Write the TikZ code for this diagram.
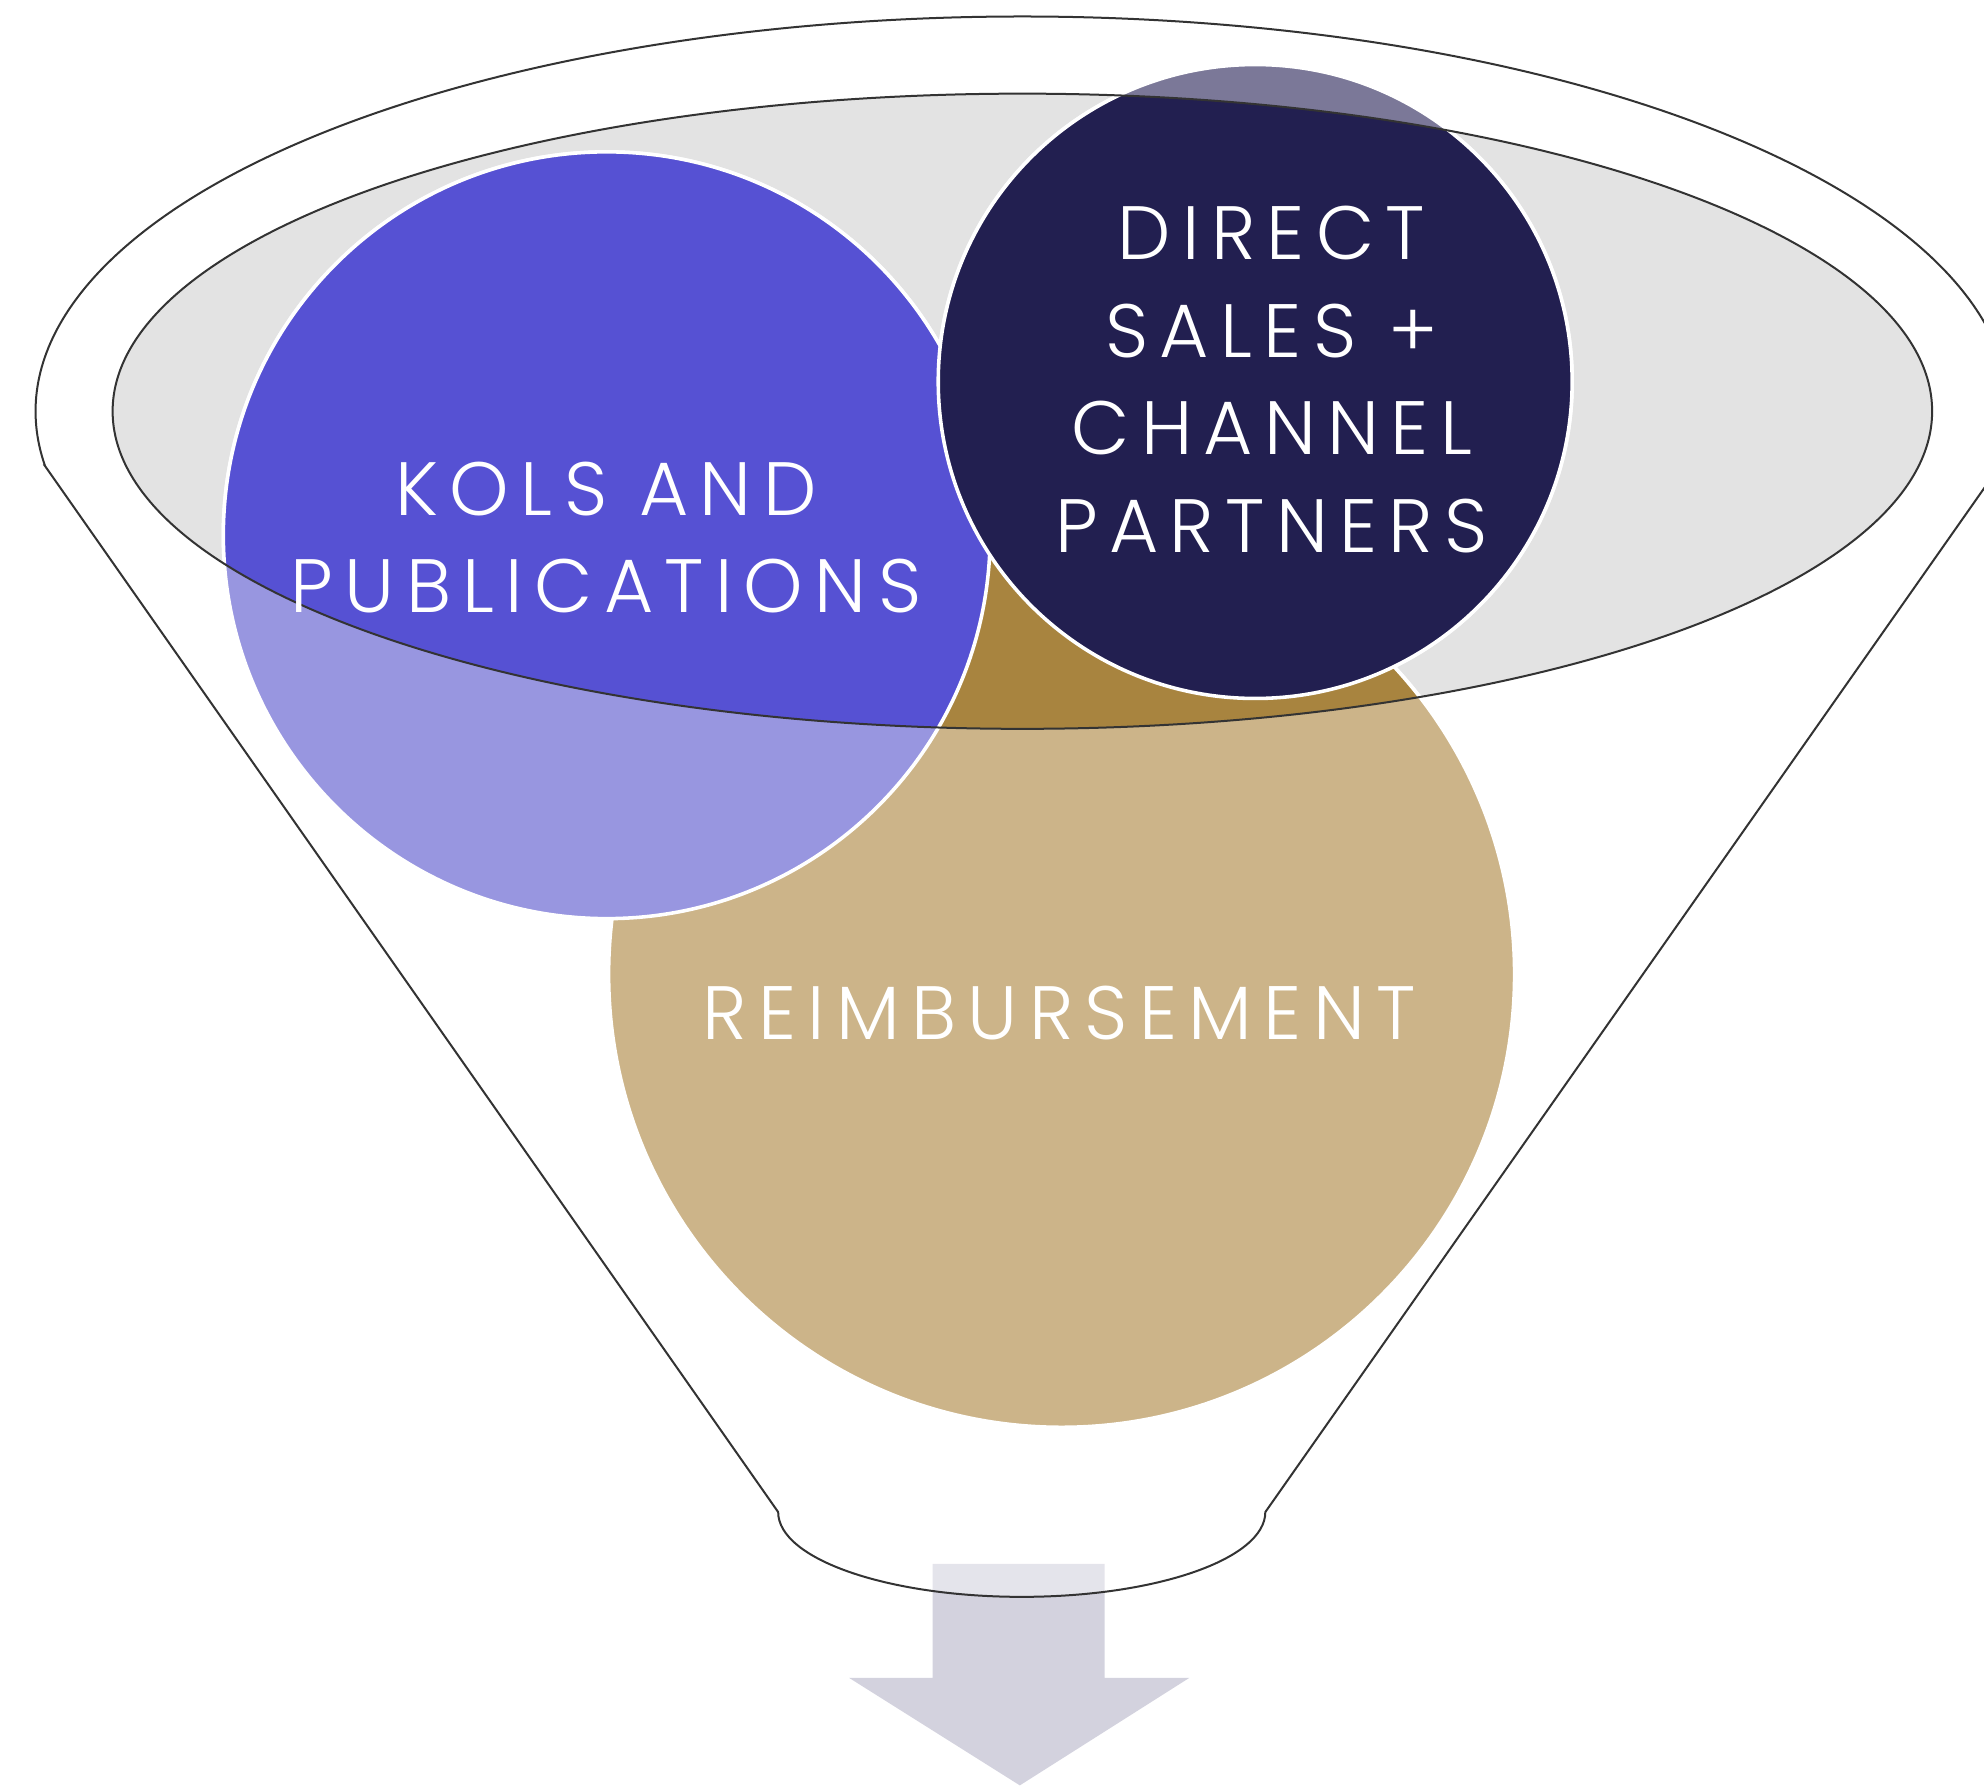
\documentclass[tikz,border=0pt]{standalone}
\usepackage{fontspec}
\setmainfont{Poppins}[UprightFont=* Light]
\usetikzlibrary{positioning,calc}
\definecolor{funnelgray}{RGB}{227,227,227}
\definecolor{rimline}{RGB}{51,51,51}
\definecolor{kolsblue}{RGB}{86,81,211}
\definecolor{kolslight}{RGB}{152,150,224}
\definecolor{salesnavy}{RGB}{34,31,80}
\definecolor{saleslight}{RGB}{123,120,152}
\definecolor{reimbgold}{RGB}{168,132,63}
\definecolor{reimblight}{RGB}{204,180,137}
\definecolor{arrowgray}{RGB}{211,210,222}

\tikzset{
  rim/.style={draw=rimline, line width=0.45pt},
  bubble/.style={draw=white, line width=0.8pt},
  bubbletext/.style={text=white, align=center,
    font=\fontsize{17}{21.9}\selectfont\addfontfeatures{LetterSpace=15}}
}

\begin{document}
\begin{tikzpicture}
				\useasboundingbox (0,0) rectangle (15.68,-14.11);
				
				% Draw output arrow
				\fill[arrowgray] (7.37,-12.36) -- (8.73,-12.36) -- (8.73,-13.26) -- (9.40,-13.26)
				  -- (8.06,-14.11) -- (6.71,-13.26) -- (7.37,-13.26) -- cycle;
				
				% Draw funnel body
				\draw[rim, fill=white, fill opacity=0.4] (0.354,-3.68) -- (6.15,-11.95)
				  arc[start angle=180, end angle=360, x radius=1.925, y radius=0.67]
				  -- (15.806,-3.68)
				  arc[start angle=-7.92, end angle=187.92, x radius=7.8, y radius=3.12] -- cycle;
				
				% Draw funnel opening
				\fill[funnelgray] (8.08,-3.25) ellipse[x radius=7.19, y radius=2.51];
				
				% Draw circles
				\coordinate (reimbc) at (8.39,-7.70);
				\coordinate (kolsc) at (4.795,-4.23);
				\coordinate (salesc) at (9.92,-3.015);
				\filldraw[bubble, fill=reimblight] (reimbc) circle[radius=3.58];
				\filldraw[bubble, fill=kolslight] (kolsc) circle[radius=3.03];
				\filldraw[bubble, fill=saleslight] (salesc) circle[radius=2.505];
				
				% Darker parts inside the opening
				\begin{scope}
				  \clip (8.08,-3.25) ellipse[x radius=7.19, y radius=2.51];
				  \filldraw[bubble, fill=reimbgold] (reimbc) circle[radius=3.58];
				  \filldraw[bubble, fill=kolsblue] (kolsc) circle[radius=3.03];
				  \filldraw[bubble, fill=salesnavy] (salesc) circle[radius=2.505];
				\end{scope}
				\draw[rim] (8.08,-3.25) ellipse[x radius=7.19, y radius=2.51];
				
				% Draw labels
				\node[bubbletext] (kols) at (4.79,-4.25) {KOLS AND\\PUBLICATIONS};
				\node[bubbletext] (sales) at (10.05,-3.00) {DIRECT\\SALES +\\CHANNEL\\PARTNERS};
				\node[bubbletext] (reimb) at (8.37,-8.01) {REIMBURSEMENT};
			\end{tikzpicture}
\end{document}
